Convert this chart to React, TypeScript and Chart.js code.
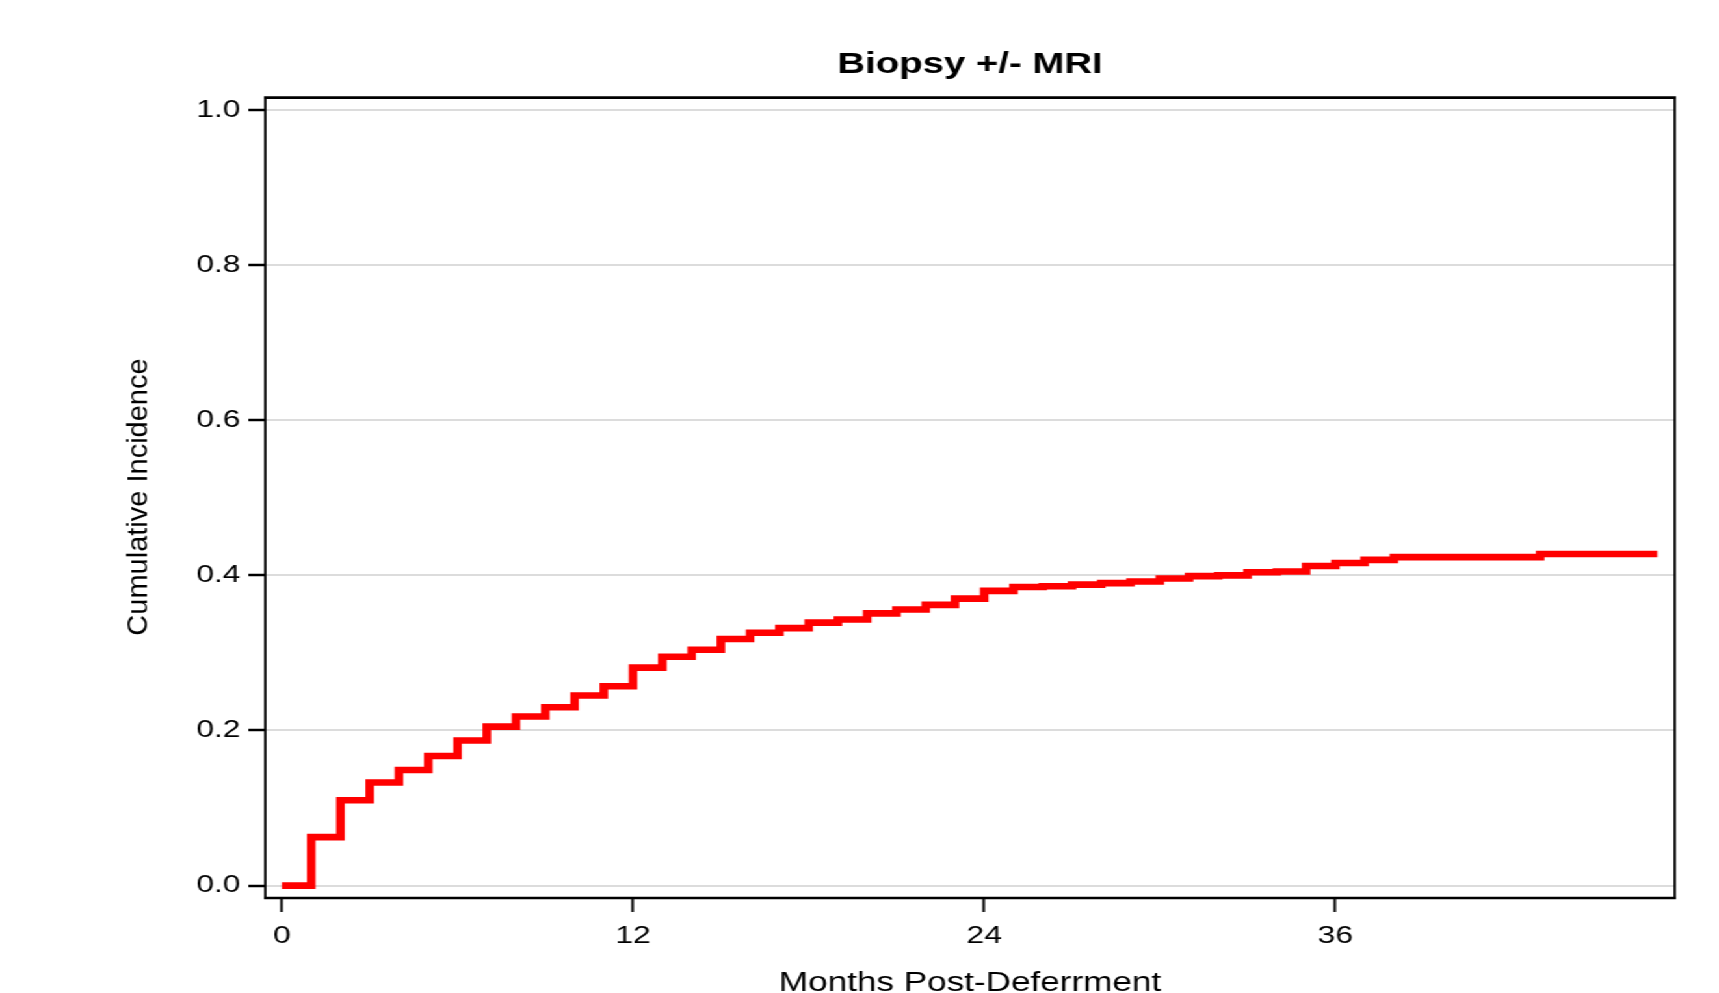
import React, { useEffect, useRef } from 'react';
import { Chart, registerables } from 'chart.js';

Chart.register(...registerables);

// ---- data ----
const MONTHS = [
  0, 1, 2, 3, 4, 5, 6, 7, 8, 9, 10, 11, 12, 13, 14, 15, 16, 17, 18, 19,
  20, 21, 22, 23, 24, 25, 26, 27, 28, 29, 30, 31, 32, 33, 34, 35, 36, 37, 38, 43, 47,
];
const INCIDENCE = [
  0.0, 0.0625, 0.11, 0.133, 0.149, 0.167, 0.187, 0.205, 0.218, 0.23,
  0.245, 0.257, 0.281, 0.295, 0.304, 0.318, 0.326, 0.332, 0.339, 0.343,
  0.351, 0.356, 0.362, 0.37, 0.38, 0.385, 0.386, 0.388, 0.39, 0.392,
  0.396, 0.399, 0.4, 0.404, 0.405, 0.412, 0.416, 0.42, 0.4235, 0.4275, 0.4275,
];
const X_TICKS = [0, 12, 24, 36];
const Y_TICKS = [0, 0.2, 0.4, 0.6, 0.8, 1.0];
const TITLE = 'Biopsy +/- MRI';
const X_TITLE = 'Months Post-Deferrment';
const Y_TITLE = 'Cumulative Incidence';

// ---- layout ----
const STRETCH = 1719 / 1322;
const CW = 1322;
const CH = 993;
const FONT = '"Liberation Sans", Arial, Helvetica, sans-serif';

const framePlugin = {
  id: 'frameAndTitles',
  afterDraw(chart: any) {
    const { ctx, chartArea: a } = chart;
    ctx.save();
    ctx.strokeStyle = '#000';
    ctx.lineWidth = 2.6;
    ctx.beginPath();
    ctx.moveTo(a.left - 1, a.top);
    ctx.lineTo(a.right + 1, a.top);
    ctx.moveTo(a.left - 1, a.bottom);
    ctx.lineTo(a.right + 1, a.bottom);
    ctx.stroke();
    ctx.lineWidth = 1.8;
    ctx.beginPath();
    ctx.moveTo(a.left, a.top);
    ctx.lineTo(a.left, a.bottom);
    ctx.moveTo(a.right, a.top);
    ctx.lineTo(a.right, a.bottom);
    ctx.stroke();

    ctx.fillStyle = '#000';
    ctx.font = `bold 29.5px ${FONT}`;
    ctx.textAlign = 'center';
    ctx.textBaseline = 'alphabetic';
    ctx.fillText(TITLE, (a.left + a.right) / 2, 73);

    ctx.translate(106.4, 497);
    ctx.scale(1 / STRETCH, 1);
    ctx.rotate(-Math.PI / 2);
    ctx.font = `29px ${FONT}`;
    ctx.textAlign = 'center';
    ctx.textBaseline = 'middle';
    ctx.fillText(Y_TITLE, 0, 0);
    ctx.restore();
  },
};

export default function App() {
  const canvasRef = useRef<HTMLCanvasElement | null>(null);

  useEffect(() => {
    const canvas = canvasRef.current;
    if (!canvas) return;
    const chart = new Chart(canvas, {
      type: 'line',
      data: {
        datasets: [
          {
            data: MONTHS.map((m, i) => ({ x: m, y: INCIDENCE[i] })),
            borderColor: '#ff0000',
            backgroundColor: '#ff0000',
            borderWidth: 6.6,
            stepped: 'before',
            pointRadius: 0,
            fill: false,
            borderCapStyle: 'butt',
            borderJoinStyle: 'miter',
          },
        ],
      },
      options: {
        responsive: false,
        maintainAspectRatio: false,
        animation: false,
        devicePixelRatio: 1,
        layout: { padding: { top: 97.6, right: 34, bottom: 0, left: 0 } },
        plugins: {
          legend: { display: false },
          title: { display: false },
          tooltip: { enabled: false },
        },
        scales: {
          x: {
            type: 'linear',
            position: 'bottom',
            min: -0.57,
            max: 47.6,
            afterBuildTicks: (s: any) => {
              s.ticks = X_TICKS.map((v) => ({ value: v }));
            },
            afterFit: (s: any) => {
              s.height = 95;
            },
            grid: {
              drawOnChartArea: false,
              drawTicks: true,
              tickLength: 14,
              tickColor: '#000',
              tickWidth: 2,
            },
            border: { display: false },
            ticks: {
              color: '#000',
              font: { size: 24.5, family: FONT },
              padding: 10,
              maxRotation: 0,
              autoSkip: false,
            },
            title: {
              display: true,
              text: X_TITLE,
              color: '#000',
              font: { size: 27, family: FONT, lineHeight: 0.6 },
              padding: { top: 0, bottom: 1.6 },
            },
          },
          y: {
            type: 'linear',
            min: -0.016,
            max: 1.016,
            afterBuildTicks: (s: any) => {
              s.ticks = Y_TICKS.map((v) => ({ value: v }));
            },
            afterFit: (s: any) => {
              s.width = 204;
            },
            grid: {
              color: '#dcdcdc',
              lineWidth: 2,
              drawTicks: true,
              tickLength: 13,
              tickColor: '#000',
              tickWidth: 2.5,
            },
            border: { display: false },
            ticks: {
              color: '#000',
              font: { size: 24.5, family: FONT },
              padding: 6,
              callback: (v: any) => Number(v).toFixed(1),
            },
          },
        },
      },
      plugins: [framePlugin],
    } as any);
    return () => chart.destroy();
  }, []);

  return (
    <div
      style={{
        position: 'absolute',
        left: 0,
        top: 0,
        width: CW,
        height: CH,
        transform: `scaleX(${STRETCH})`,
        transformOrigin: '0 0',
        background: '#fff',
      }}
    >
      <canvas
        ref={canvasRef}
        width={CW}
        height={CH}
        style={{ display: 'block', width: CW, height: CH }}
      />
    </div>
  );
}
